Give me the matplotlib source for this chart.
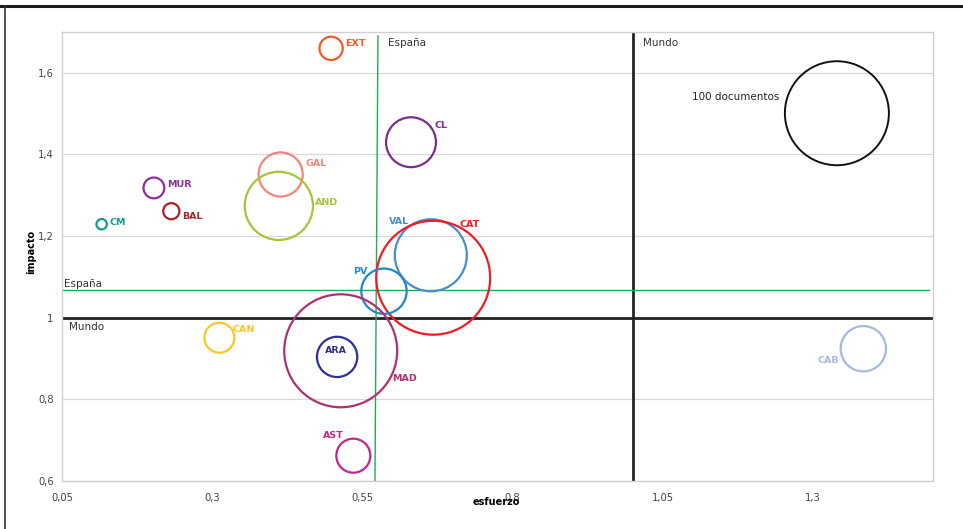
import numpy as np
import matplotlib
matplotlib.use("Agg")
import matplotlib.pyplot as plt
from matplotlib.lines import Line2D

# comunidades: esfuerzo, impacto, documentos
regiones = ["EXT", "CL", "GAL", "AND", "MUR", "BAL", "CM", "VAL",
            "CAT", "PV", "MAD", "ARA", "CAN", "AST", "CAB"]
esfuerzo = [0.498, 0.631, 0.414, 0.411, 0.203, 0.232, 0.116, 0.664,
            0.668, 0.586, 0.514, 0.508, 0.312, 0.535, 1.384]
impacto = [1.660, 1.430, 1.351, 1.274, 1.318, 1.261, 1.229, 1.153,
           1.098, 1.065, 0.919, 0.904, 0.951, 0.662, 0.924]
documentos = [5, 23, 18, 43, 4, 2.4, 1, 48,
              120, 19, 118, 15, 8.3, 10.7, 19]

colores = ["#F05A28", "#7B2D8E", "#F4847A", "#A8C43A", "#8E2D9E", "#A8232A",
           "#1A9A8A", "#4A8CD0", "#EE1C25", "#1E88C8", "#B03070", "#2E3192",
           "#FFC425", "#C0288C", "#A8B8E0"]
# desplazamiento de etiquetas (pixeles)
offsets = [(14, 5), (23, 17), (25, 11), (36, 3), (13, 3), (11, -5), (8, 2),
           (-42, 34), (26, 53), (-31, 20), (51, -28), (-12, 6), (13, 8),
           (-30, 20), (-46, -12)]

ref_x, ref_y, ref_docs = 1.34, 1.501, 100

espana_x = (0.576, 0.571)
espana_y = 1.068
mundo = 1.0

xticks = [0.05, 0.3, 0.55, 0.8, 1.05, 1.3]
xtick_labels = ["0,05", "0,3", "0,55", "0,8", "1,05", "1,3"]
yticks = [0.6, 0.8, 1.0, 1.2, 1.4, 1.6]
ytick_labels = ["0,6", "0,8", "1", "1,2", "1,4", "1,6"]

fig = plt.figure(figsize=(9.63, 5.29), dpi=100)
ax = fig.add_axes([62 / 963, 1 - 481 / 529, 871 / 963, 449 / 529])

# 100 documentos ~ 104 px de diametro
d100 = 104 * 0.72
escala = d100 ** 2 / 100

ax.set_xlim(0.05, 1.5)
ax.set_ylim(0.6, 1.7)

for y in yticks:
    ax.axhline(y, color="#d9d9d9", lw=0.9, zorder=0)

ax.axhline(mundo, color="#222222", lw=2.0, zorder=1)
ax.axvline(mundo, color="#222222", lw=2.0, zorder=1)
ax.plot([0.05, 1.493], [espana_y, espana_y], color="#22AA55", lw=1.0, zorder=1)
ax.plot([espana_x[0], espana_x[1]], [1.69, 0.6], color="#22AA55", lw=1.0, zorder=1)

ax.scatter(esfuerzo, impacto, s=np.array(documentos) * escala, facecolors="none",
           edgecolors=colores, linewidths=1.6, zorder=3)
ax.scatter([ref_x], [ref_y], s=ref_docs * escala, facecolors="none",
           edgecolors="#111111", linewidths=1.4, zorder=3)

for nombre, x, y, c, off in zip(regiones, esfuerzo, impacto, colores, offsets):
    ax.annotate(nombre, (x, y), xytext=off, textcoords="offset pixels",
                ha="left", va="center", fontsize=6.8, fontweight="bold",
                color=c, zorder=4)
ax.annotate("100 documentos", (ref_x, ref_y), xytext=(-58, 16),
            textcoords="offset pixels", ha="right", va="center",
            fontsize=7.5, color="#222222")

ax.text(0.592, 1.674, "España", fontsize=7.5, color="#333333", va="center")
ax.text(1.017, 1.674, "Mundo", fontsize=7.5, color="#333333", va="center")
ax.text(0.053, 1.083, "España", fontsize=7.5, color="#333333", va="center")
ax.text(0.061, 0.977, "Mundo", fontsize=7.5, color="#333333", va="center")

ax.set_xticks(xticks)
ax.set_xticklabels(xtick_labels)
ax.set_yticks(yticks)
ax.set_yticklabels(ytick_labels)
ax.tick_params(length=0, labelsize=7.2, labelcolor="#444444")
ax.tick_params(axis="x", pad=9)
ax.tick_params(axis="y", pad=6)

for s in ax.spines.values():
    s.set_color("#d0d0d0")
    s.set_linewidth(1.0)

ax.set_xlabel("esfuerzo", fontsize=7, fontweight="bold")
ax.set_ylabel("impacto", fontsize=7, fontweight="bold")
ax.xaxis.set_label_coords(0.499, -0.036)
ax.yaxis.set_label_coords(-0.030, 0.51)

# marco de la figura
fig.add_artist(Line2D([0, 1], [1 - 5.5 / 529, 1 - 5.5 / 529],
                      transform=fig.transFigure, color="#1a1a1a", lw=2.2))
fig.add_artist(Line2D([4.5 / 963, 4.5 / 963], [0, 1 - 5.5 / 529],
                      transform=fig.transFigure, color="#333333", lw=1.2))

fig.savefig("out.png", dpi=100)
